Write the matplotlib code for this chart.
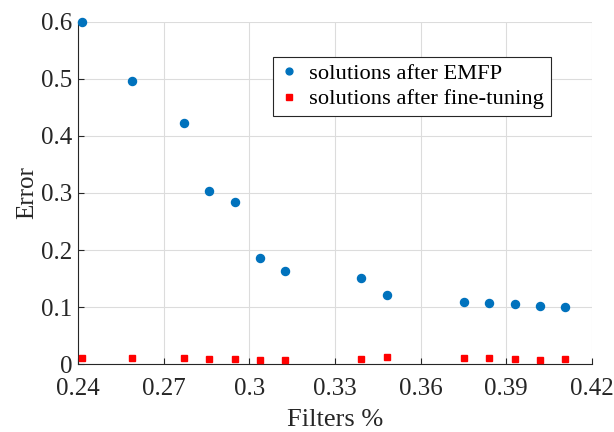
import numpy as np
import matplotlib.pyplot as plt

# values
filters = [0.2412, 0.2589, 0.2770, 0.2858, 0.2948, 0.3037, 0.3126,
           0.3392, 0.3481, 0.3751, 0.3840, 0.3930, 0.4019, 0.4108]
err_emfp = [0.600, 0.496, 0.422, 0.304, 0.285, 0.187, 0.164,
            0.151, 0.121, 0.109, 0.108, 0.105, 0.102, 0.101]
err_tuned = [0.011, 0.011, 0.011, 0.009, 0.009, 0.008, 0.008,
             0.009, 0.012, 0.011, 0.011, 0.009, 0.008, 0.009]
xticks = [0.24, 0.27, 0.30, 0.33, 0.36, 0.39, 0.42]
xtick_labels = ['0.24', '0.27', '0.3', '0.33', '0.36', '0.39', '0.42']
yticks = [0, 0.1, 0.2, 0.3, 0.4, 0.5, 0.6]
ytick_labels = ['0', '0.1', '0.2', '0.3', '0.4', '0.5', '0.6']

plt.rcParams['font.family'] = ['Liberation Serif', 'DejaVu Serif']

fig = plt.figure(figsize=(6.14, 4.32), dpi=100)
ax = fig.add_axes([0.1275, 0.1567, 0.8362, 0.7931])

ax.plot(filters, err_emfp, linestyle='none', marker='o', markersize=5.8,
        color='#0072BD', label='solutions after EMFP', clip_on=False, zorder=3)
ax.plot(filters, err_tuned, linestyle='none', marker='s', markersize=5.0,
        color='#FF0000', label='solutions after fine-tuning', clip_on=False, zorder=3)

ax.set_xlim(0.24, 0.42)
ax.set_ylim(0, 0.6)
ax.set_xticks(xticks)
ax.set_xticklabels(xtick_labels)
ax.set_yticks(yticks)
ax.set_yticklabels(ytick_labels)
ax.tick_params(direction='in', length=4, width=0.8, labelsize=18,
               colors='#262626')
ax.tick_params(axis='x', pad=10)
ax.tick_params(axis='y', pad=4)

ax.grid(True, color='#dcdcdc', linewidth=0.8)
ax.set_axisbelow(True)
for side in ['top', 'right']:
    ax.spines[side].set_visible(False)
for side in ['left', 'bottom']:
    ax.spines[side].set_color('#262626')
    ax.spines[side].set_linewidth(0.8)

ax.set_xlabel('Filters %', fontsize=19, color='#262626', labelpad=6)
ax.set_ylabel('Error', fontsize=18, color='#262626', labelpad=2)

leg = ax.legend(loc='upper left', bbox_to_anchor=(0.38, 0.898), fontsize=16.2,
                handlelength=0.8, handletextpad=0.5, borderpad=0.3,
                labelspacing=0.2, borderaxespad=0, fancybox=False,
                framealpha=1, edgecolor='#262626', markerscale=0.85)
leg.get_frame().set_linewidth(0.8)

fig.savefig('out.png', dpi=100)
